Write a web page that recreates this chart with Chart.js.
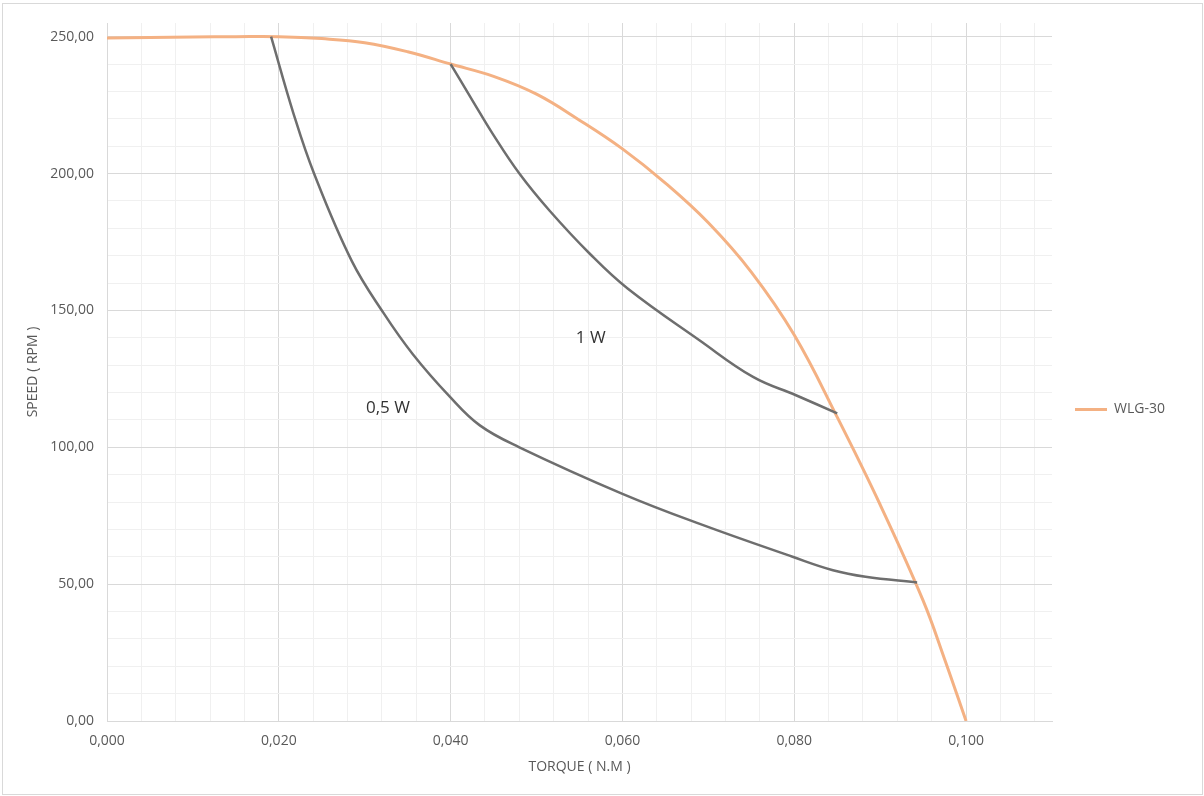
<!DOCTYPE html>
<html><head><meta charset="utf-8">
<script src="https://cdn.jsdelivr.net/npm/chart.js@4/dist/chart.umd.min.js"></script>
<style>html,body{margin:0;padding:0;background:#fff;}#wrap{width:1204px;height:796px;}</style>
</head><body><div id="wrap"><canvas id="c" width="1204" height="796"></canvas></div>
<script>
// ---- data ----
const wlgTorque = [0, 0.005, 0.010, 0.015, 0.020, 0.025, 0.030, 0.035, 0.040, 0.045, 0.050, 0.055, 0.060, 0.065, 0.070, 0.075, 0.080, 0.085, 0.090, 0.095, 0.0975, 0.100];
const wlgSpeed  = [249.5, 249.7, 249.9, 250, 250, 249.3, 247.8, 244.5, 240, 235.5, 229, 219.5, 209, 196.5, 182, 164, 141, 111, 79, 44, 22.6, 0];

const oneWTorque = [0.040, 0.0426, 0.0449, 0.048, 0.0515, 0.0562, 0.0606, 0.069, 0.0752, 0.0802, 0.085];
const oneWSpeed  = [240, 226.4, 214.5, 200, 186.5, 170.7, 158, 139, 125.7, 119, 112.4];

const halfWTorque = [0.0191, 0.0217, 0.0241, 0.0285, 0.0322, 0.0356, 0.0399, 0.0434, 0.048, 0.060, 0.069, 0.0798, 0.0845, 0.0883, 0.0943];
const halfWSpeed  = [250, 222, 200, 168, 149, 134, 118.5, 108, 100, 83, 72, 60, 55.1, 52.7, 50.6];

const xTickLabels = ['0,000', '0,020', '0,040', '0,060', '0,080', '0,100'];
const yTickLabels = ['0,00', '50,00', '100,00', '150,00', '200,00', '250,00'];

const curveLabels = ['1 W', '0,5 W'];
const curveLabelX = [0.0563, 0.0327];
const curveLabelY = [139.8, 114.2];

// ---- helpers ----
const toXY = (xs, ys) => xs.map((x, i) => ({x: x, y: ys[i]}));
const isMult = (v, s) => Math.abs(v / s - Math.round(v / s)) < 1e-6;
const FONT = 'Open Sans';
const TXT = '#595959';

const framePlugin = {
  id: 'frame',
  afterDraw(chart) {
    const c = chart.ctx;
    c.save();
    c.strokeStyle = '#d9d9d9';
    c.lineWidth = 1;
    c.strokeRect(2.5, 3.5, chart.width - 4, chart.height - 5);
    c.restore();
  }
};

const curveLabelPlugin = {
  id: 'curveLabels',
  afterDatasetsDraw(chart) {
    const c = chart.ctx, xs = chart.scales.x, ys = chart.scales.y;
    c.save();
    c.font = '17px "' + FONT + '"';
    c.fillStyle = '#333333';
    c.textAlign = 'center';
    c.textBaseline = 'middle';
    curveLabels.forEach((t, i) => {
      c.fillText(t, xs.getPixelForValue(curveLabelX[i]), ys.getPixelForValue(curveLabelY[i]));
    });
    c.restore();
  }
};

const legendWidthPlugin = {
  id: 'legendWidth',
  beforeUpdate(chart) {
    const lg = chart.legend;
    if (lg && !lg._fixedW) {
      const f = lg.fit;
      lg.fit = function () { f.call(this); this.width = 152; };
      lg._fixedW = true;
    }
  }
};

new Chart(document.getElementById('c'), {
  type: 'line',
  data: {
    datasets: [
      {label: '1 W', data: toXY(oneWTorque, oneWSpeed), borderColor: '#6e6e6e', borderWidth: 2.5,
       pointRadius: 0, tension: 0.4, order: 0},
      {label: '0,5 W', data: toXY(halfWTorque, halfWSpeed), borderColor: '#6e6e6e', borderWidth: 2.5,
       pointRadius: 0, tension: 0.4, order: 0},
      {label: 'WLG-30', data: toXY(wlgTorque, wlgSpeed), borderColor: '#F4B183', backgroundColor: '#F4B183',
       borderWidth: 3, pointRadius: 0, tension: 0.4, order: 1}
    ]
  },
  options: {
    responsive: false,
    animation: false,
    devicePixelRatio: 1,
    layout: {padding: {top: 23, left: 0, right: 0, bottom: 0}},
    plugins: {
      tooltip: {enabled: false},
      legend: {
        position: 'right',
        labels: {
          filter: (it) => it.text === 'WLG-30',
          usePointStyle: true,
          pointStyle: 'line',
          pointStyleWidth: 32,
          boxWidth: 32,
          padding: 23,
          color: TXT,
          font: {family: FONT, size: 14}
        }
      }
    },
    scales: {
      x: {
        type: 'linear',
        min: 0,
        max: 0.110,
        afterBuildTicks(s) {
          const t = [];
          for (let i = 0; i <= 27; i++) t.push({value: +(i * 0.004).toFixed(3)});
          s.ticks = t;
        },
        afterFit(s) { s.height = 75; },
        grid: {
          drawTicks: false,
          color: (ctx) => (ctx.tick && isMult(ctx.tick.value, 0.02)) ? '#d9d9d9' : '#f0f0f0'
        },
        border: {color: '#d9d9d9'},
        ticks: {
          autoSkip: false, maxRotation: 0, padding: 12, color: TXT,
          font: {family: FONT, size: 14},
          callback: (v) => isMult(v, 0.02) ? xTickLabels[Math.round(v / 0.02)] : ''
        },
        title: {display: true, text: 'TORQUE ( N.M )', color: TXT, font: {family: FONT, size: 14},
                padding: {top: 0, bottom: 21}}
      },
      y: {
        type: 'linear',
        min: 0,
        max: 255,
        afterBuildTicks(s) {
          const t = [];
          for (let i = 0; i <= 25; i++) t.push({value: i * 10});
          s.ticks = t;
        },
        afterFit(s) { s.width = 107; },
        grid: {
          drawTicks: false,
          color: (ctx) => (ctx.tick && isMult(ctx.tick.value, 50)) ? '#d9d9d9' : '#f0f0f0'
        },
        border: {color: '#d9d9d9'},
        ticks: {
          autoSkip: false, padding: 13, color: TXT,
          font: {family: FONT, size: 14},
          callback: (v) => isMult(v, 50) ? yTickLabels[Math.round(v / 50)] : ''
        },
        title: {display: true, text: 'SPEED ( RPM )', color: TXT, font: {family: FONT, size: 14},
                padding: {top: 25, bottom: 0}}
      }
    }
  },
  plugins: [framePlugin, curveLabelPlugin, legendWidthPlugin]
});
</script></body></html>
